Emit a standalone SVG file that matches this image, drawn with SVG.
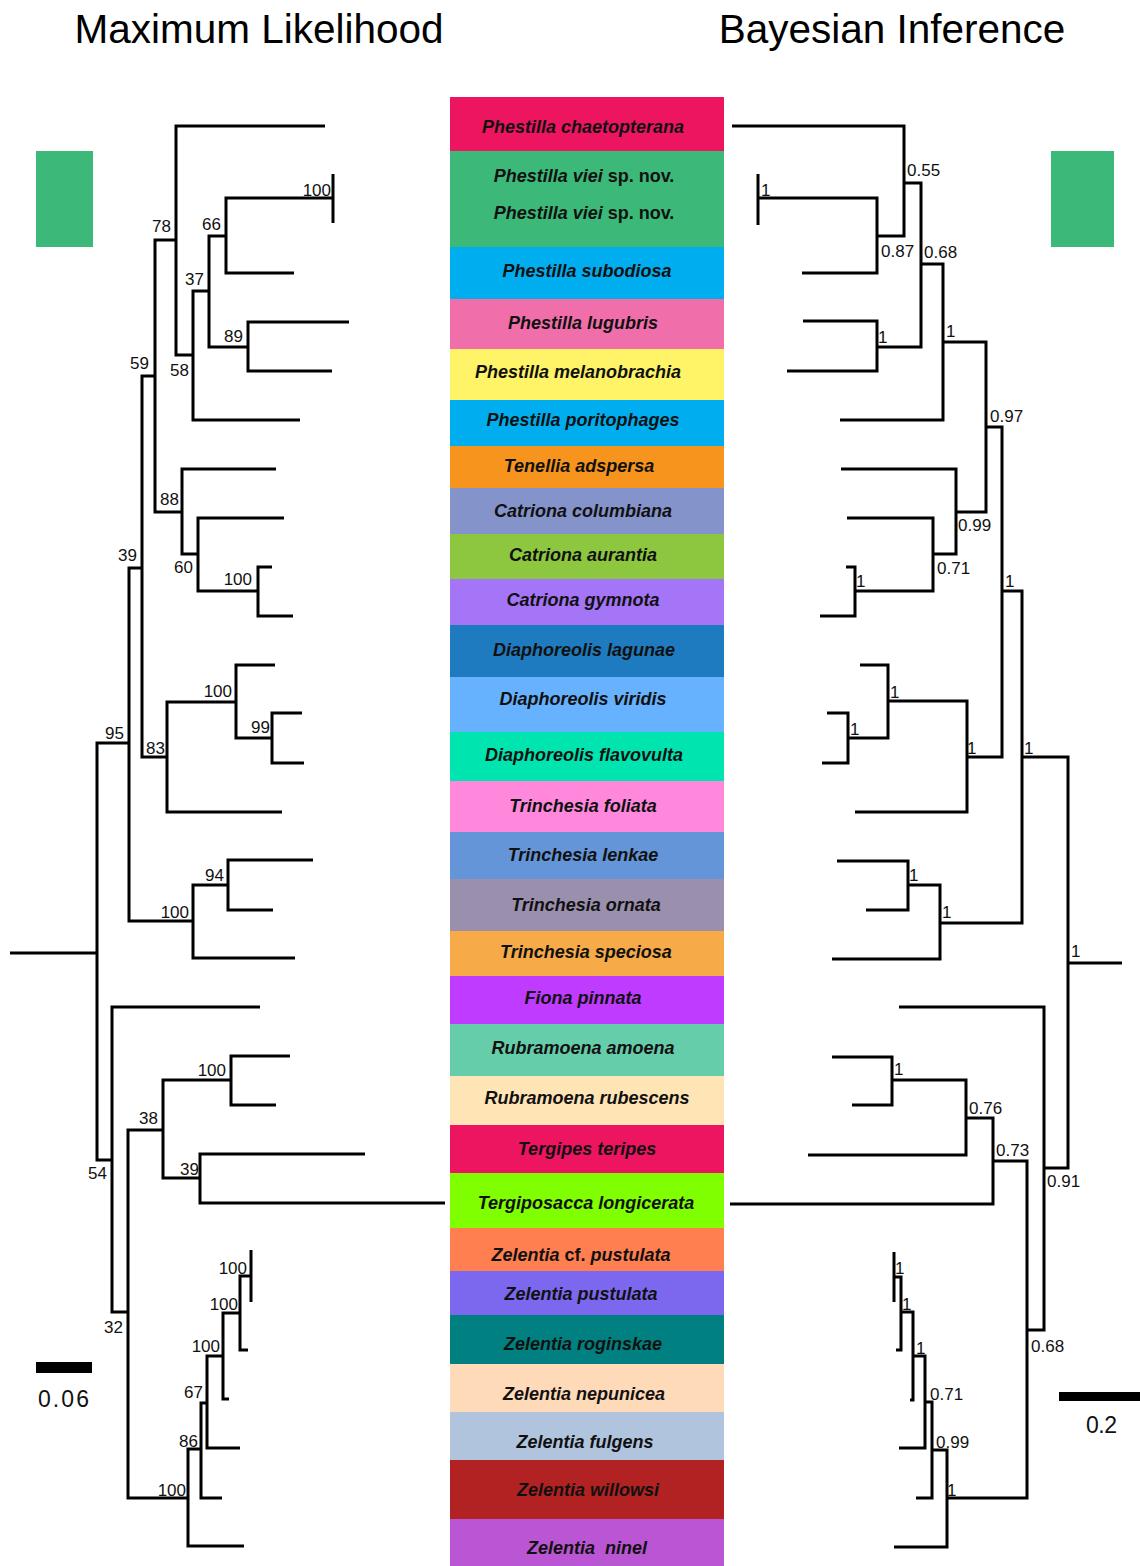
<svg xmlns="http://www.w3.org/2000/svg" width="1140" height="1566" viewBox="0 0 1140 1566">
<style>
.title{font-family:"Liberation Sans",Arial,sans-serif;font-size:40.5px;fill:#000}
.tx{font-family:"Liberation Sans",Arial,sans-serif;font-size:18px;font-weight:bold;font-style:italic;fill:#111;text-anchor:middle}
.up{font-style:normal}
.br{fill:none;stroke:#000;stroke-width:3;stroke-linejoin:miter;stroke-linecap:butt}
.sl{font-family:"Liberation Sans",Arial,sans-serif;font-size:17px;fill:#111}
.ml{text-anchor:end}
.sc{font-family:"Liberation Sans",Arial,sans-serif;font-size:23px;fill:#111}
</style>
<rect width="1140" height="1566" fill="#fff"/>
<text class="title" x="259" y="43" text-anchor="middle">Maximum Likelihood</text>
<text class="title" x="892" y="43" text-anchor="middle">Bayesian Inference</text>
<rect x="36" y="151" width="57" height="96" fill="#3CB878"/>
<rect x="1051" y="151" width="63" height="96" fill="#3CB878"/>

<g id="taxa">
<g id="t-chaetopterana"><rect x="450" y="97" width="274" height="54" fill="#EE1560"/><text class="tx" x="583" y="133">Phestilla chaetopterana</text></g>
<g id="t-viei"><rect x="450" y="151" width="274" height="96" fill="#3CB878"/><text class="tx" x="584" y="182">Phestilla viei<tspan class="up"> sp. nov.</tspan></text><text class="tx" x="584" y="219">Phestilla viei<tspan class="up"> sp. nov.</tspan></text></g>
<g id="t-subodiosa"><rect x="450" y="247" width="274" height="52" fill="#00AEEF"/><text class="tx" x="587" y="277">Phestilla subodiosa</text></g>
<g id="t-lugubris"><rect x="450" y="299" width="274" height="50" fill="#F06EA9"/><text class="tx" x="583" y="329">Phestilla lugubris</text></g>
<g id="t-melanobrachia"><rect x="450" y="349" width="274" height="51" fill="#FFF467"/><text class="tx" x="578" y="378">Phestilla melanobrachia</text></g>
<g id="t-poritophages"><rect x="450" y="400" width="274" height="46" fill="#00AEEF"/><text class="tx" x="583" y="426">Phestilla poritophages</text></g>
<g id="t-adspersa"><rect x="450" y="446" width="274" height="42" fill="#F7941D"/><text class="tx" x="579" y="472">Tenellia adspersa</text></g>
<g id="t-columbiana"><rect x="450" y="488" width="274" height="46" fill="#8493CA"/><text class="tx" x="583" y="517">Catriona columbiana</text></g>
<g id="t-aurantia"><rect x="450" y="534" width="274" height="45" fill="#8DC63F"/><text class="tx" x="583" y="561">Catriona aurantia</text></g>
<g id="t-gymnota"><rect x="450" y="579" width="274" height="46" fill="#A575F7"/><text class="tx" x="583" y="606">Catriona gymnota</text></g>
<g id="t-lagunae"><rect x="450" y="625" width="274" height="52" fill="#1F7BBF"/><text class="tx" x="584" y="656">Diaphoreolis lagunae</text></g>
<g id="t-viridis"><rect x="450" y="677" width="274" height="55" fill="#66B2FF"/><text class="tx" x="583" y="705">Diaphoreolis viridis</text></g>
<g id="t-flavovulta"><rect x="450" y="732" width="274" height="49" fill="#00E5B0"/><text class="tx" x="584" y="761">Diaphoreolis flavovulta</text></g>
<g id="t-foliata"><rect x="450" y="781" width="274" height="51" fill="#FF88DD"/><text class="tx" x="583" y="812">Trinchesia foliata</text></g>
<g id="t-lenkae"><rect x="450" y="832" width="274" height="47" fill="#6495D8"/><text class="tx" x="583" y="861">Trinchesia lenkae</text></g>
<g id="t-ornata"><rect x="450" y="879" width="274" height="52" fill="#9A8FAD"/><text class="tx" x="586" y="911">Trinchesia ornata</text></g>
<g id="t-speciosa"><rect x="450" y="931" width="274" height="45" fill="#F7AB48"/><text class="tx" x="586" y="958">Trinchesia speciosa</text></g>
<g id="t-pinnata"><rect x="450" y="976" width="274" height="48" fill="#BF3BFF"/><text class="tx" x="583" y="1004">Fiona pinnata</text></g>
<g id="t-amoena"><rect x="450" y="1024" width="274" height="52" fill="#66CDAA"/><text class="tx" x="583" y="1054">Rubramoena amoena</text></g>
<g id="t-rubescens"><rect x="450" y="1076" width="274" height="49" fill="#FFE4B5"/><text class="tx" x="587" y="1104">Rubramoena rubescens</text></g>
<g id="t-teripes"><rect x="450" y="1125" width="274" height="48" fill="#EE1560"/><text class="tx" x="587" y="1155">Tergipes teripes</text></g>
<g id="t-longicerata"><rect x="450" y="1173" width="274" height="55" fill="#7FFF00"/><text class="tx" x="586" y="1209">Tergiposacca longicerata</text></g>
<g id="t-cfpustulata"><rect x="450" y="1228" width="274" height="43" fill="#FF7F50"/><text class="tx" x="581" y="1261">Zelentia<tspan class="up"> cf. </tspan>pustulata</text></g>
<g id="t-pustulata"><rect x="450" y="1271" width="274" height="44" fill="#7B68EE"/><text class="tx" x="581" y="1300">Zelentia pustulata</text></g>
<g id="t-roginskae"><rect x="450" y="1315" width="274" height="49" fill="#008080"/><text class="tx" x="583" y="1350">Zelentia roginskae</text></g>
<g id="t-nepunicea"><rect x="450" y="1364" width="274" height="48" fill="#FFDAB9"/><text class="tx" x="584" y="1400">Zelentia nepunicea</text></g>
<g id="t-fulgens"><rect x="450" y="1412" width="274" height="48" fill="#B0C4DE"/><text class="tx" x="585" y="1448">Zelentia fulgens</text></g>
<g id="t-willowsi"><rect x="450" y="1460" width="274" height="59" fill="#B22222"/><text class="tx" x="588" y="1496">Zelentia willowsi</text></g>
<g id="t-ninel"><rect x="450" y="1519" width="274" height="47" fill="#BA55D3"/><text class="tx" x="587" y="1554" xml:space="preserve">Zelentia  ninel</text></g>
</g>

<g id="ml-connectors" class="br">
<path d="M10 953 H97"/>
<path d="M129 743 H97 V1160 H112"/>
<path d="M142 568 H129 V921 H193"/>
<path d="M155 376 H142 V757 H167"/>
<path d="M176 240 H155 V512 H182"/>
<path d="M325 126 H176 V355 H193"/>
<path d="M209 291 H193 V420 H300"/>
<path d="M226 236 H209 V347 H248"/>
<path d="M333 198 H226 V273 H294"/>
<path d="M333 174 V223"/>
<path d="M349 322 H248 V371 H332"/>
<path d="M276 469 H182 V554 H198"/>
<path d="M284 518 H198 V591 H258"/>
<path d="M272 567 H258 V616 H293"/>
<path d="M236 702 H167 V812 H282"/>
<path d="M275 665 H236 V738 H272"/>
<path d="M302 713 H272 V763 H304"/>
<path d="M228 885 H193 V958 H295"/>
<path d="M313 860 H228 V910 H273"/>
<path d="M260 1007 H112 V1312 H128"/>
<path d="M163 1130 H128 V1498 H188"/>
<path d="M231 1080 H163 V1178 H200"/>
<path d="M290 1056 H231 V1105 H276"/>
<path d="M365 1154 H200 V1203 H445"/>
<path d="M201 1449 H188 V1546 H244"/>
<path d="M207 1403 H201 V1498 H222"/>
<path d="M223 1356 H207 V1448 H240"/>
<path d="M240 1313 H223 V1399 H229"/>
<path d="M251 1276 H240 V1350 H248"/>
<path d="M251 1250 V1302"/>
</g>

<g id="bi-connectors" class="br">
<path d="M1122 963 H1068"/>
<path d="M1022 757 H1068 V1168 H1044"/>
<path d="M1002 591 H1022 V923 H940"/>
<path d="M986 427 H1002 V757 H967"/>
<path d="M943 342 H986 V512 H956"/>
<path d="M921 264 H943 V420 H840"/>
<path d="M904 183 H921 V347 H877"/>
<path d="M732 126 H904 V236 H877"/>
<path d="M758 198 H877 V273 H802"/>
<path d="M758 174 V225"/>
<path d="M803 321 H877 V371 H787"/>
<path d="M841 469 H956 V554 H933"/>
<path d="M847 518 H933 V591 H855"/>
<path d="M846 567 H855 V616 H820"/>
<path d="M888 701 H967 V812 H855"/>
<path d="M860 665 H888 V738 H848"/>
<path d="M827 713 H848 V763 H822"/>
<path d="M908 885 H940 V959 H832"/>
<path d="M837 861 H908 V910 H866"/>
<path d="M899 1007 H1044 V1330 H1027"/>
<path d="M993 1161 H1027 V1498 H947"/>
<path d="M966 1118 H993 V1204 H730"/>
<path d="M892 1080 H966 V1155 H808"/>
<path d="M832 1057 H892 V1105 H852"/>
<path d="M932 1450 H947 V1547 H894"/>
<path d="M925 1402 H932 V1498 H916"/>
<path d="M913 1356 H925 V1448 H899"/>
<path d="M901 1312 H913 V1400 H910"/>
<path d="M894 1277 H901 V1350 H896"/>
<path d="M894 1252 V1302"/>
</g>

<g id="ml-support" class="sl ml">
<text x="331" y="196">100</text>
<text x="221" y="230">66</text>
<text x="171" y="232">78</text>
<text x="204" y="285">37</text>
<text x="243" y="342">89</text>
<text x="189" y="376">58</text>
<text x="149" y="369">59</text>
<text x="179" y="505">88</text>
<text x="193" y="573">60</text>
<text x="252" y="585">100</text>
<text x="137" y="561">39</text>
<text x="232" y="697">100</text>
<text x="270" y="733">99</text>
<text x="124" y="739">95</text>
<text x="165" y="754">83</text>
<text x="224" y="881">94</text>
<text x="189" y="918">100</text>
<text x="107" y="1179">54</text>
<text x="123" y="1333">32</text>
<text x="226" y="1076">100</text>
<text x="158" y="1124">38</text>
<text x="199" y="1175">39</text>
<text x="247" y="1274">100</text>
<text x="238" y="1310">100</text>
<text x="220" y="1352">100</text>
<text x="203" y="1398">67</text>
<text x="198" y="1447">86</text>
<text x="186" y="1496">100</text>
</g>

<g id="bi-support" class="sl">
<text x="761" y="196">1</text>
<text x="907" y="176">0.55</text>
<text x="881" y="257">0.87</text>
<text x="924" y="258">0.68</text>
<text x="878" y="343">1</text>
<text x="946" y="337">1</text>
<text x="990" y="422">0.97</text>
<text x="958" y="531">0.99</text>
<text x="937" y="574">0.71</text>
<text x="856" y="587">1</text>
<text x="1005" y="587">1</text>
<text x="890" y="698">1</text>
<text x="850" y="735">1</text>
<text x="967" y="754">1</text>
<text x="1024" y="754">1</text>
<text x="909" y="881">1</text>
<text x="942" y="918">1</text>
<text x="1071" y="957">1</text>
<text x="894" y="1075">1</text>
<text x="969" y="1114">0.76</text>
<text x="996" y="1156">0.73</text>
<text x="1047" y="1187">0.91</text>
<text x="895" y="1274">1</text>
<text x="902" y="1310">1</text>
<text x="1031" y="1352">0.68</text>
<text x="916" y="1354">1</text>
<text x="930" y="1400">0.71</text>
<text x="936" y="1448">0.99</text>
<text x="947" y="1496">1</text>
</g>

<g id="scale-ml">
<rect x="36" y="1362" width="56" height="11" fill="#000"/>
<text class="sc" x="38" y="1407" textLength="51">0.06</text>
</g>
<g id="scale-bi">
<rect x="1059" y="1392" width="81" height="9" fill="#000"/>
<text class="sc" x="1086" y="1433" textLength="31" font-size="21">0.2</text>
</g>
</svg>
